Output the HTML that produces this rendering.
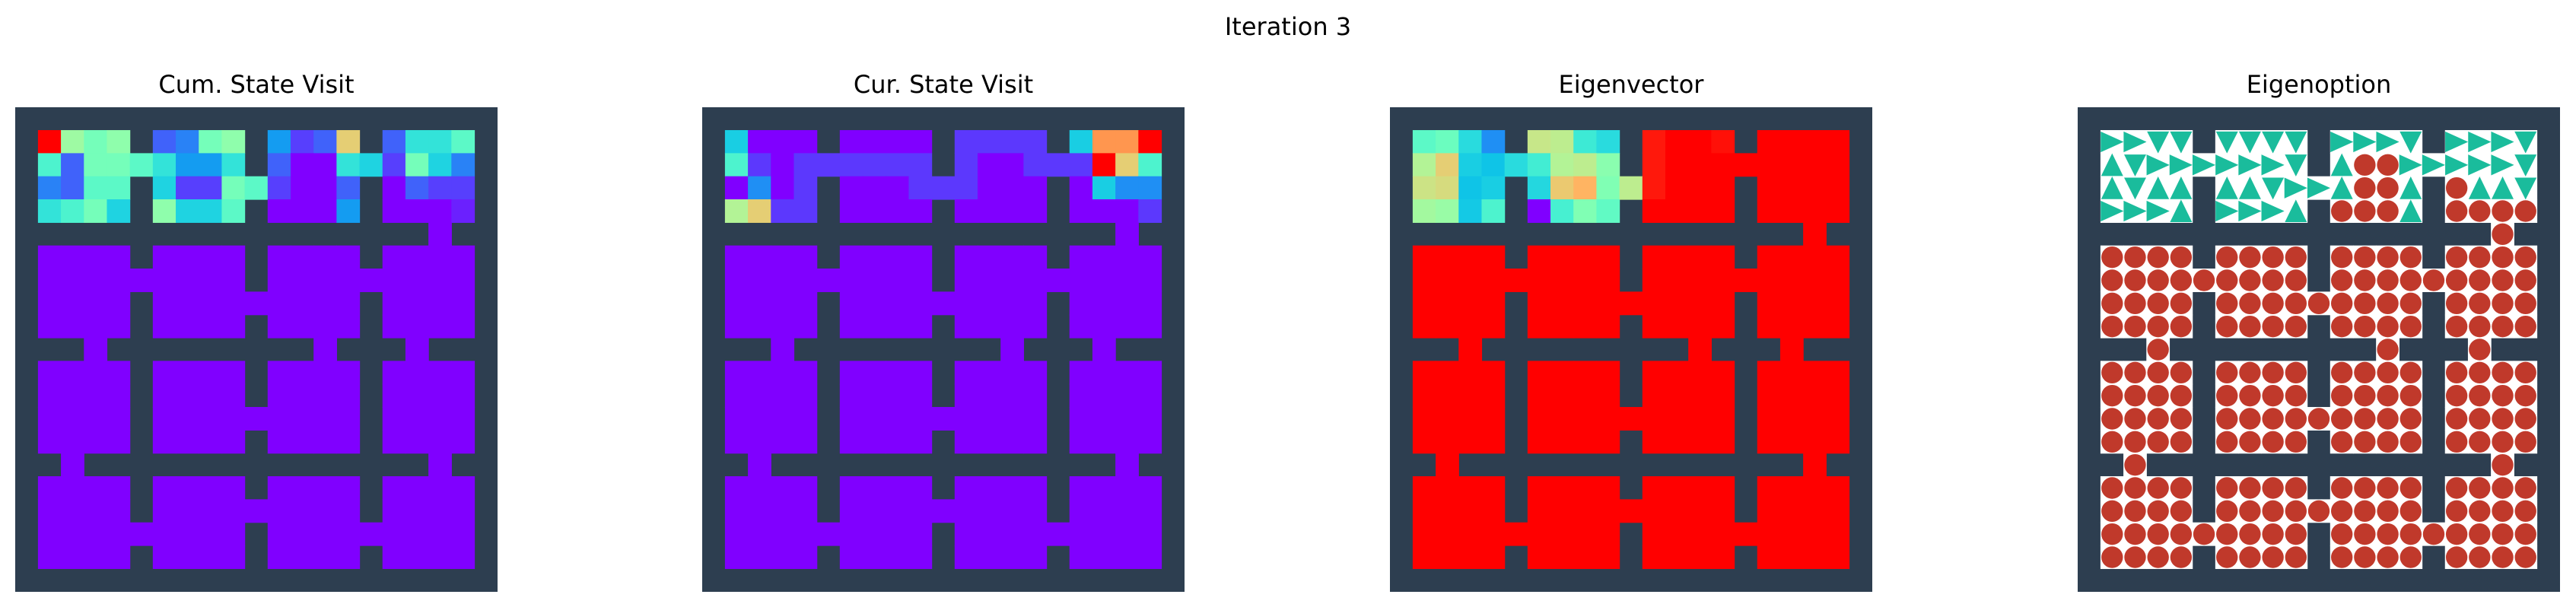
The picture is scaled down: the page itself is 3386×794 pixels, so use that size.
<!DOCTYPE html>
<html><head><meta charset="utf-8"><style>
html,body{margin:0;padding:0;background:#fff;}
svg{display:block;}
text{font-family:"DejaVu Sans","Liberation Sans",sans-serif;fill:#000;}
</style></head><body>
<svg id="fig" width="3386" height="794" viewBox="0 0 3386 794" xmlns="http://www.w3.org/2000/svg">
<rect width="3386" height="794" fill="#fff"/>
<text x="1693" y="46" font-size="32" text-anchor="middle">Iteration 3</text>
</svg>
<script>
// ---- data ----
const panelTitles = ["Cum. State Visit", "Cur. State Visit", "Eigenvector", "Eigenoption"];
const doors = [[2,5],[2,15],[3,10],[5,18],[7,5],[7,15],[8,10],[10,3],[10,13],[10,17],[13,10],[15,2],[15,18],[17,10],[18,5],[18,15]];
const N = null;
// rows 1-4, cols 1-19 of the top room band (null = wall)
const cumVisitTop = [
 [1.0,.56,.48,.53,N,.125,.17,.48,.53,N,.21,.08,.125,.7,N,.125,.35,.35,.43],
 [.4,.125,.48,.48,.43,.35,.21,.21,.35,N,.125,0,0,.35,.31,.08,.48,.31,.17],
 [.17,.125,.43,.43,N,.31,.08,.08,.48,.43,.08,0,0,.125,N,0,.125,.08,.08],
 [.35,.4,.48,.31,N,.53,.31,.31,.43,N,0,0,0,.21,N,0,0,0,.04]
];
const curVisitTop = [
 [.3,0,0,0,N,0,0,0,0,N,.07,.07,.07,.07,N,.3,.8,.8,1.0],
 [.4,.07,0,.07,.07,.07,.07,.07,.07,N,.07,0,0,.07,.07,.07,1.0,.7,.4],
 [0,.19,0,.07,N,0,0,0,.07,.07,.07,0,0,0,N,0,.3,.19,.19],
 [.6,.7,.07,.07,N,0,0,0,0,N,0,0,0,0,N,0,0,0,.07]
];
const eigvecTop = [
 [.43,.46,.33,.19,N,.64,.62,.37,.33,N,.97,1,1,.98,N,1,1,1,1],
 [.6,.7,.3,.28,.33,.38,.6,.62,.52,N,.97,1,1,1,1,1,1,1,1],
 [.65,.67,.28,.3,N,.32,.71,.75,.5,.62,.97,1,1,1,N,1,1,1,1],
 [.57,.55,.29,.4,N,0,.39,.5,.44,N,1,1,1,1,N,1,1,1,1]
];
const restValue = [0, 0, 1];
// Eigenoption actions for top band: R right, D down, U up, C circle (terminate)
const optionTop = [
 "RRDD DDDD RRRD RRRD",
 "UDRRRRRRD UCCRRRRRD",
 "UDUU UUDRRUCCU CUUD",
 "RRRU RRRU CCCU CCCC"
];
// ---- drawing ----
const svg = document.getElementById('fig');
const NS = "http://www.w3.org/2000/svg";
const panelX = [20, 923, 1827, 2731];
const panelY = 141, panelW = 634, panelH = 637, G = 21;
const cw = panelW / G, ch = panelH / G;
const WALL = "#2d3e50";
function isDoor(r,c){return doors.some(d=>d[0]===r&&d[1]===c);}
function isWall(r,c){
  const wl = v => v%5===0;
  if (r===0||c===0||r===20||c===20) return true;
  if (wl(r)&&wl(c)) return true;
  if (wl(r)||wl(c)) return !isDoor(r,c);
  return false;
}
function rainbow(x){
  x=Math.max(0,Math.min(1,x));
  const cl=v=>Math.round(255*Math.max(0,Math.min(1,v)));
  return `rgb(${cl(Math.abs(2*x-0.5))},${cl(Math.sin(Math.PI*x))},${cl(Math.cos(Math.PI*x/2))})`;
}
function mk(tag, attrs, parent){
  const e=document.createElementNS(NS,tag);
  for(const k in attrs) e.setAttribute(k,attrs[k]);
  parent.appendChild(e); return e;
}
const tops=[cumVisitTop,curVisitTop,eigvecTop];
const panelNames=["cum-state-visit","cur-state-visit","eigenvector","eigenoption"];
for(let p=0;p<4;p++){
  const g=mk('g',{},svg);
  
  
  const x0=panelX[p];
  const t=mk('text',{x:x0+panelW/2,y:122,'font-size':32,'text-anchor':'middle'},g);
  t.textContent=panelTitles[p];
  
  
  const bg=mk('rect',{x:x0,y:panelY,width:panelW,height:panelH,fill:WALL},g);
  
  
  const acts = optionTop.map(s=>s.replace(/ /g,'W'));
  for(let r=0;r<G;r++)for(let c=0;c<G;c++){
    if(isWall(r,c)) continue;
    const cx=x0+c*cw, cy=panelY+r*ch;
    let fill;
    if(p<3){
      let v=restValue[p];
      if(r>=1&&r<=4&&c>=1&&c<=19&&tops[p][r-1][c-1]!==null) v=tops[p][r-1][c-1];
      fill=rainbow(v);
    } else fill="#fff";
    const cell=mk('rect',{x:cx-0.3,y:cy-0.3,width:cw+0.6,height:ch+0.6,fill:fill},g);
    
    
    if(p===3){
      let a='C';
      if(r>=1&&r<=4&&c>=1&&c<=19) a=acts[r-1][c-1];
      let m;
      if(a==='C'){
        m=mk('circle',{cx:cx+cw/2,cy:cy+ch/2,r:cw*0.47,fill:"#c0392b"},g);
      } else {
        let pts;
        if(a==='R') pts=[[0,0.05],[1,0.5],[0,0.95]];
        else if(a==='D') pts=[[0.02,0.05],[0.98,0.05],[0.5,1]];
        else pts=[[0.5,0],[0.02,0.98],[0.98,0.98]];
        m=mk('polygon',{points:pts.map(q=>(cx+q[0]*cw)+','+(cy+q[1]*ch)).join(' '),fill:"#1abc9c"},g);
      }
      
      
    }
  }
}
</script>
</body></html>
